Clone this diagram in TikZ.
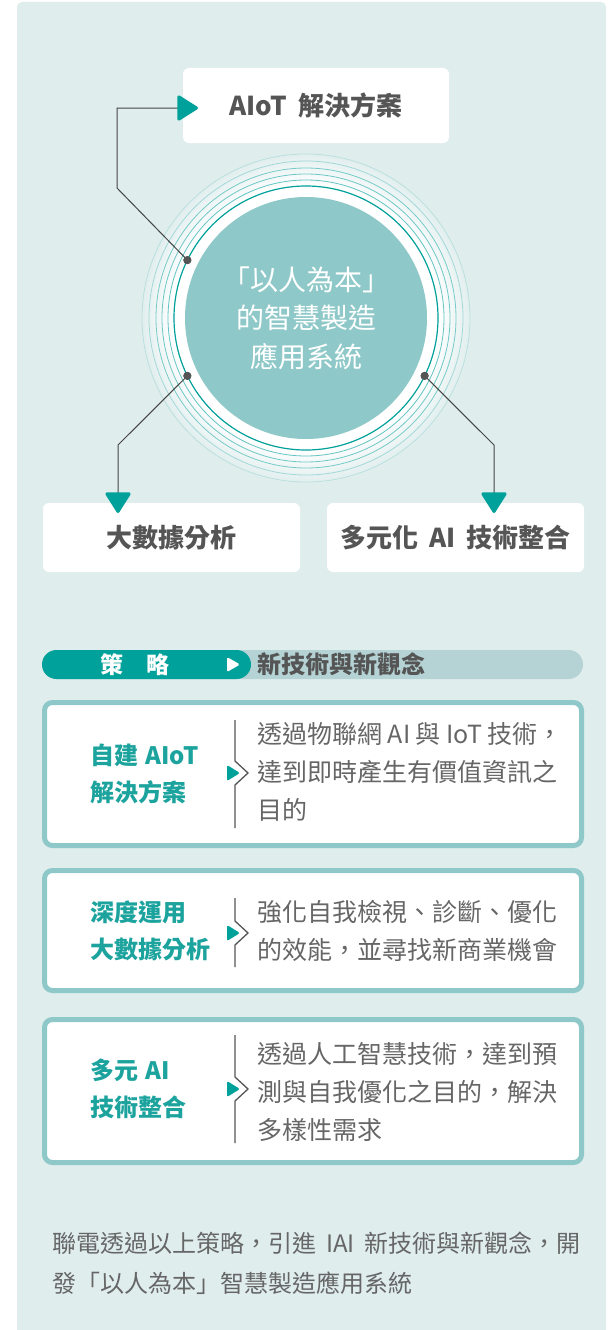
\documentclass[tikz,border=0pt]{standalone}
\usepackage{fontspec}
\setmainfont{Noto Sans CJK TC}
\usetikzlibrary{arrows.meta,calc}
\definecolor{bgc}{HTML}{E0EDED}
\definecolor{tealD}{HTML}{00A19B}
\definecolor{tealM}{HTML}{8EC8C8}
\definecolor{barL}{HTML}{B5D3D4}
\definecolor{txtD}{HTML}{555555}
\definecolor{txtL}{HTML}{666666}
\definecolor{tealT}{HTML}{1CA39D}
\definecolor{lineC}{HTML}{444444}
\newcommand\wgap{\hspace{0.42em}}
\newcommand\dgap{\hspace{0.3em}}
\pgfdeclareradialshading{halo}{\pgfpoint{0bp}{0bp}}{color(0bp)=(white); color(19.8bp)=(white); color(25bp)=(bgc); color(50bp)=(bgc)}
\tikzset{
  box/.style={fill=white, rounded corners=6, inner sep=0, text=txtD, font=\bfseries\fontsize{26}{30}\selectfont},
  dot/.style={circle, fill=txtD, inner sep=0, minimum size=8},
  conn/.style={draw=lineC, line width=1,
    -{Triangle[length=22pt,width=27pt,round,line width=3pt,color=tealD,fill=tealD]}},
  card/.style={draw=tealM, line width=5, fill=white, rounded corners=8, inner sep=0},
  ctitle/.style={anchor=west, align=left, inner sep=0, text=tealT, font=\bfseries\fontsize{24}{37}\selectfont},
  cdesc/.style={anchor=west, align=left, inner sep=0, text=txtL, font=\fontsize{25}{38}\selectfont},
  sepline/.style={draw=txtD, line width=1.3},
  tri/.style={fill=tealD, rounded corners=2}
}
\begin{document}
\begin{tikzpicture}[x=1pt,y=-1pt]
\useasboundingbox (0,0) rectangle (610,1330);
\fill[white] (0,0) rectangle (610,1330);
\fill[bgc] (17,1330) [rounded corners=5] -- (17,2) -- (606,2) [sharp corners] -- (606,1330) -- cycle;

% central circle
\coordinate (c) at (306,318);
\shade[shading=halo] (c) circle[radius=166];
\foreach \r/\o in {138/0.6,144/0.55,150/0.5,157/0.3,164/0.18}
  \draw[tealD, opacity=\o, line width=0.8] (c) circle[radius=\r];
\fill[white] (c) circle[radius=131];
\draw[tealD, line width=1.2] (c) circle[radius=132];
\node[circle, fill=tealM, minimum size=242, inner sep=0, text=white, align=center,
  font=\fontsize{28}{38.5}\selectfont] (core) at (c) {「以人為本」\\的智慧製造\\應用系統};

% boxes
\node[box, minimum width=266, minimum height=75] (aiot) at (316,105.5) {AIoT\wgap 解決方案};
\node[box, minimum width=257, minimum height=69] (big) at (171.5,537.5) {大數據分析};
\node[box, minimum width=257, minimum height=69] (ai) at (455.5,537.5) {多元化\wgap AI\wgap 技術整合};

% dots
\node[dot] (d1) at ($(c)+(206:132)$) {};
\node[dot] (d2) at ($(c)+(154:132)$) {};
\node[dot] (d3) at ($(c)+(26:132)$) {};

% connectors
\coordinate (b1) at (117,188);
\coordinate (b2) at (117,108);
\coordinate (tA) at (198,108);
\coordinate (b3) at (118,445);
\coordinate (tB) at (118,513);
\coordinate (b4) at (494,445);
\coordinate (tC) at (494,513);
\draw[conn] (d1.center) -- (b1) -- (b2) -- (tA);
\draw[conn] (d2.center) -- (b3) -- (tB);
\draw[conn] (d3.center) -- (b4) -- (tC);
\node[dot] at (d1) {};
\node[dot] at (d2) {};
\node[dot] at (d3) {};

% strategy banner
\fill[barL, rounded corners=14.5] (42,650) rectangle (583,679);
\fill[tealD, rounded corners=14.5] (42,650) rectangle (251,679);
\fill[white, rounded corners=1.5] (227,657) -- (240,664.5) -- (227,672) -- cycle;
\node[text=white, font=\bfseries\fontsize{23}{26}\selectfont, inner sep=0] (strat) at (135,664.5) {策　略};
\node[anchor=west, text=txtD, font=\bfseries\fontsize{24}{26}\selectfont, inner sep=0] (newt) at (257,664.5) {新技術與新觀念};

% cards
\node[card, minimum width=537, minimum height=143] (card1) at (313,774) {};
\node[card, minimum width=537, minimum height=120] (card2) at (313,930.5) {};
\node[card, minimum width=537, minimum height=143] (card3) at (313,1091) {};

\node[ctitle] (t1) at (90,774) {自建\dgap AIoT\\解決方案};
\node[ctitle] (t2) at (90,931) {深度運用\\大數據分析};
\node[ctitle] (t3) at (90,1089) {多元\dgap AI\\技術整合};

\draw[sepline] (235,720) -- (235,761) -- (248,773) -- (235,785) -- (235,828);
\fill[tri] (227,765) -- (240,773) -- (227,781) -- cycle;
\draw[sepline] (235,898) -- (235,921) -- (248,933) -- (235,945) -- (235,967);
\fill[tri] (227,925) -- (240,933) -- (227,941) -- cycle;
\draw[sepline] (235,1035) -- (235,1077) -- (248,1089) -- (235,1101) -- (235,1143);
\fill[tri] (227,1081) -- (240,1089) -- (227,1097) -- cycle;

\node[cdesc] (x1) at (257,772) {透過物聯網 AI 與 IoT 技術，\\達到即時產生有價值資訊之\\目的};
\node[cdesc] (x2) at (257,931) {強化自我檢視、診斷、優化\\的效能，並尋找新商業機會};
\node[cdesc] (x3) at (257,1092) {透過人工智慧技術，達到預\\測與自我優化之目的，解決\\多樣性需求};

% footer
\node[anchor=west, align=left, inner sep=0, text=txtL, font=\fontsize{24}{40}\selectfont] (foot) at (52,1263)
  {聯電透過以上策略，引進\wgap IAI\wgap 新技術與新觀念，開\\發「以人為本」智慧製造應用系統};
\end{tikzpicture}
\end{document}
